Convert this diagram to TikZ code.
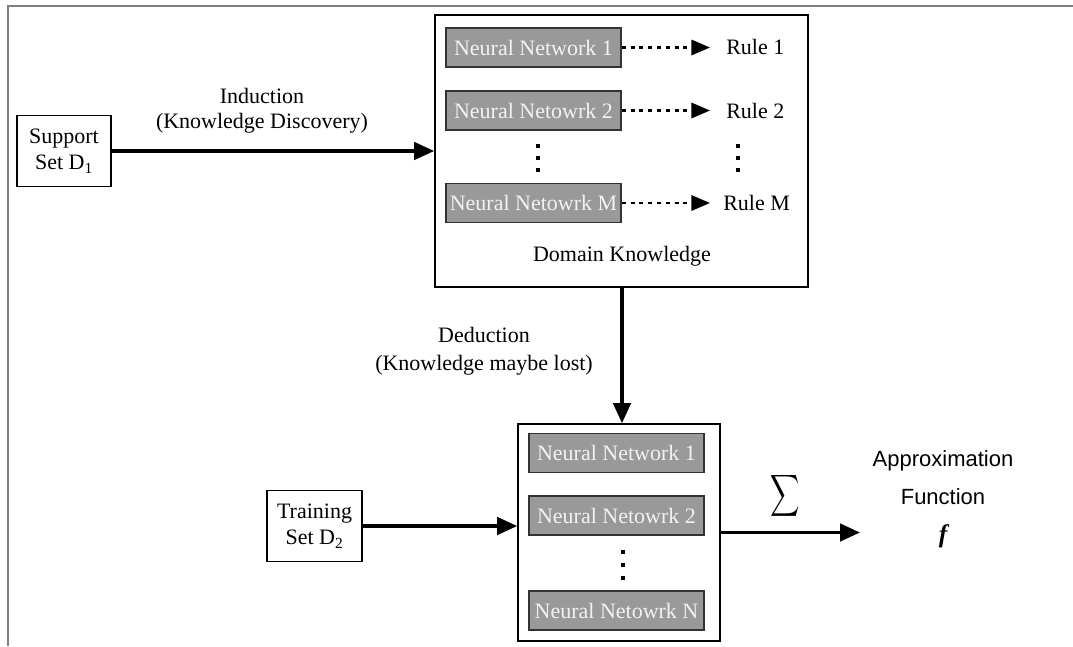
\documentclass[tikz,border=0pt]{standalone}
\usepackage{graphicx}
\usepackage{fontspec}
\setmainfont{Liberation Serif}
\setsansfont{Liberation Sans}
\usetikzlibrary{arrows.meta}
\definecolor{nngray}{HTML}{999999}
\definecolor{nnborder}{HTML}{333333}
\definecolor{framegray}{HTML}{808080}
\definecolor{nntext}{HTML}{F2F2F2}
\tikzset{
  txt/.style={font=\fontsize{16.5}{19}\selectfont, inner sep=0pt, align=center},
  plainbox/.style={draw=black, line width=1.2pt, fill=white, inner sep=0pt},
  nnbox/.style={draw=nnborder, line width=1.2pt, fill=nngray, text=nntext, inner sep=0pt,
    minimum width={175*0.75pt}, minimum height={39*0.75pt}, font=\fontsize{16.5}{19}\selectfont},
  mainarrow/.style={line width=2.6pt, -{Triangle[length=15pt,width=13pt]}},
  dotarrow/.style={line width=1.7pt, dash pattern=on 3pt off 3.6pt, -{Triangle[length=14pt,width=11.5pt]}},
  vdot/.style={fill=black, inner sep=0pt, minimum size={4.5*0.75pt}, shape=rectangle},
}
\begin{document}
\begin{tikzpicture}[x=0.75pt, y=-0.75pt]
\useasboundingbox (0,0) rectangle (1073,646);
% outer frame (top and left)
\draw[framegray, line width=1.1pt] (1073,6) -- (8,6) -- (8,646);

% support set
\node[plainbox, minimum width={94*0.75pt}, minimum height={71*0.75pt}, txt] (support) at (64,151)
  {Support\\[1pt]Set D\textsubscript{1}};

% domain knowledge box
\node[plainbox, minimum width={373*0.75pt}, minimum height={272*0.75pt}] (domain) at (621.5,151) {};
\node[nnbox] (nn1u) at (533.5,47.5) {Neural Network 1};
\node[nnbox] (nn2u) at (533.5,110.5) {Neural Netowrk 2};
\node[nnbox] (nnMu) at (533.5,203) {Neural Netowrk M};
\node[txt, anchor=west] (rule1) at (726,47) {Rule 1};
\node[txt, anchor=west] (rule2) at (726,111) {Rule 2};
\node[txt, anchor=west] (ruleM) at (723,203) {Rule M};
\node[vdot] (du1) at (538,146) {};
\node[vdot] (du2) at (538,158) {};
\node[vdot] (du3) at (538,170) {};
\node[vdot] (dr1) at (738,146) {};
\node[vdot] (dr2) at (738,158) {};
\node[vdot] (dr3) at (738,170) {};
\node[txt] (dk) at (622,256) {Domain Knowledge};

\draw[dotarrow] (nn1u.east) -- (710,47.5) coordinate (r1tip);
\draw[dotarrow] (nn2u.east) -- (710,110.5) coordinate (r2tip);
\draw[dotarrow] (nnMu.east) -- (710,203) coordinate (rMtip);

% induction
\node[txt, font=\fontsize{16.5}{19}\selectfont] (induction) at (262,110.5)
  {Induction\\(Knowledge Discovery)};
\draw[mainarrow] (support.east) -- (domain.west);

% lower box
\node[plainbox, minimum width={202*0.75pt}, minimum height={217*0.75pt}] (lower) at (619,532.5) {};
\node[nnbox] (nn1l) at (616.5,453) {Neural Network 1};
\node[nnbox] (nn2l) at (616.5,515.5) {Neural Netowrk 2};
\node[nnbox] (nnNl) at (616.5,610.5) {Neural Netowrk N};
\node[vdot] (dl1) at (623,552) {};
\node[vdot] (dl2) at (623,565) {};
\node[vdot] (dl3) at (623,578) {};

% deduction
\coordinate (dedtop) at (622,287);
\draw[mainarrow] (dedtop) -- (dedtop |- lower.north);
\node[txt, font=\fontsize{16.5}{21}\selectfont] (deduction) at (484,351)
  {Deduction\\(Knowledge maybe lost)};

% training set
\node[plainbox, minimum width={95*0.75pt}, minimum height={71*0.75pt}, txt] (training) at (314.5,526)
  {Training\\[1pt]Set D\textsubscript{2}};
\draw[mainarrow] (training.east) -- (training.east -| lower.west);

% output
\coordinate (outtip) at (860,532.5);
\draw[mainarrow] (lower.east) -- (outtip);
\node[inner sep=0pt] (sigma) at (785,496) {\resizebox{22pt}{23pt}{$\displaystyle\sum$}};
\node[inner sep=0pt, align=center, font=\sffamily\fontsize{16.5}{28.5}\selectfont] (approx) at (943,499)
  {Approximation\\Function\\{\rmfamily\bfseries\itshape\fontsize{19}{20}\selectfont f}};
\end{tikzpicture}
\end{document}
